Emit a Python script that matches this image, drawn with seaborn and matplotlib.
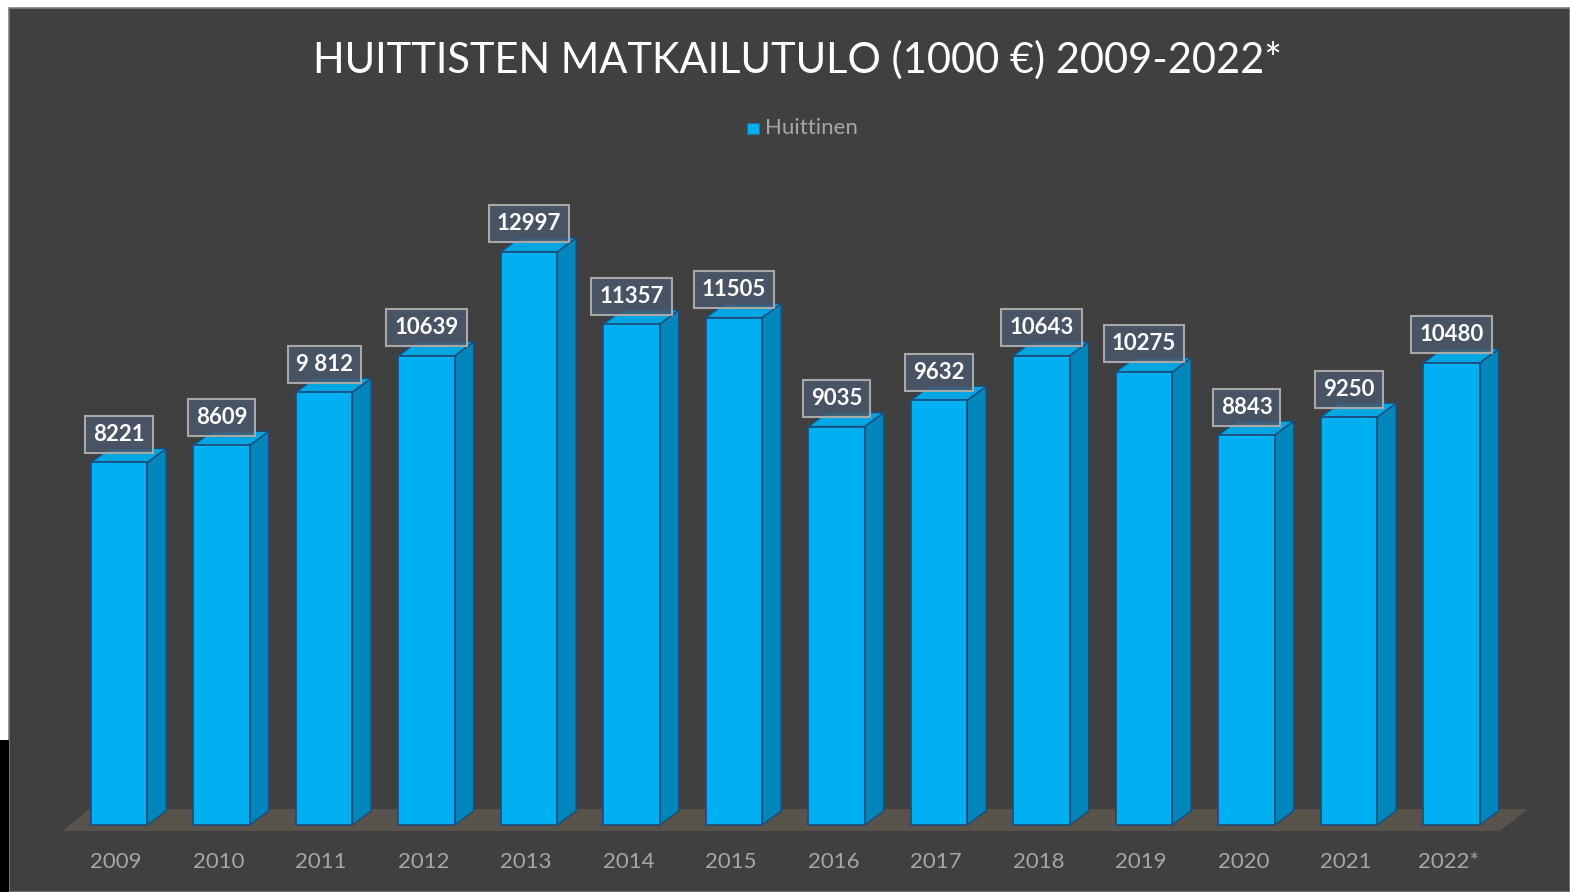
import numpy as np
import pandas as pd
import matplotlib
matplotlib.use("Agg")
import matplotlib.pyplot as plt
from matplotlib.patches import Polygon, Rectangle
import seaborn as sns

# Data
years = ["2009", "2010", "2011", "2012", "2013", "2014", "2015",
         "2016", "2017", "2018", "2019", "2020", "2021", "2022*"]
income = [8221, 8609, 9812, 10639, 12997, 11357, 11505,
          9035, 9632, 10643, 10275, 8843, 9250, 10480]
value_labels = ["8221", "8609", "9 812", "10639", "12997", "11357", "11505",
                "9035", "9632", "10643", "10275", "8843", "9250", "10480"]
series_name = "Huittinen"

df = pd.DataFrame({"Vuosi": years, "Tulo": income, "Sarja": series_name})

# Colors
bg = "#404040"
front_col = "#00B0F0"
side_col = "#0086BA"
top_col = "#00A6E2"
edge_col = "#1F4A78"
floor_col = "#58544B"
grey_txt = "#A6A6A6"

sns.set_theme(style="white")
plt.rcParams["font.family"] = ["Lato", "DejaVu Sans"]

W, H = 1570, 892
fig = plt.figure(figsize=(W / 100, H / 100), dpi=100, facecolor="white")

# dark chart panel with white / black strips around it
fig.patches.append(Rectangle((9 / W, 0), 1 - 9 / W, 1 - 8 / H, transform=fig.transFigure,
                             facecolor=bg, edgecolor="#7F7F7F", lw=1.2, zorder=-10))
fig.patches.append(Rectangle((0, 0), 9 / W, (H - 740) / H, transform=fig.transFigure,
                             facecolor="black", edgecolor="none", zorder=-10))

# axes placement (pixels) : category 0 centre at x=119, step 102.5 px ; zero at y=825
px_x = 102.5
px_y = 0.0441
ax_bot, ax_top = 840, 200
y0 = -(ax_bot - 825) / px_y
y1 = (825 - ax_top) / px_y
x0, x1 = -0.5, len(years) - 0.5
left = (119 + x0 * px_x) / W
right = (119 + x1 * px_x) / W
ax = fig.add_axes([left, (H - ax_bot) / H, right - left, (ax_bot - ax_top) / H])
ax.set_facecolor("none")
ax.set_zorder(2)

bw = 0.55
dx = 19 / px_x
dy = 14 / px_y

# floor
n = len(years)
floor = Polygon([(-0.55, -136), (n - 1 + 0.47, -136), (n - 1 + 0.75, 363), (-0.29, 363)],
                closed=True, facecolor=floor_col, edgecolor="none", zorder=1, clip_on=False)
ax.add_patch(floor)

# front faces
sns.barplot(data=df, x="Vuosi", y="Tulo", hue="Sarja", palette=[front_col], width=bw,
            saturation=1, edgecolor=edge_col, linewidth=1.2, legend=False, ax=ax, zorder=3)
for p in ax.patches:
    p.set_clip_on(False)

# side and top faces for the 3D look
for i, v in enumerate(income):
    xl, xr = i - bw / 2, i + bw / 2
    side = Polygon([(xr, 0), (xr + dx, dy), (xr + dx, v + dy), (xr, v)], closed=True,
                   facecolor=side_col, edgecolor=edge_col, lw=1.0, zorder=2, clip_on=False)
    top = Polygon([(xl, v), (xr, v), (xr + dx, v + dy), (xl + dx, v + dy)], closed=True,
                  facecolor=top_col, edgecolor=edge_col, lw=1.0, zorder=2, clip_on=False)
    ax.add_patch(side)
    ax.add_patch(top)

# value labels in boxes
for i, (v, lab) in enumerate(zip(income, value_labels)):
    ax.text(i, v + 28 / px_y, lab, ha="center", va="center", color="white",
            fontsize=16, fontweight="bold", zorder=5,
            bbox=dict(boxstyle="square,pad=0.36", facecolor=(0.29, 0.34, 0.42, 0.85),
                      edgecolor="#A8A8A8", lw=1.5))

ax.set_xlim(x0, x1)
ax.set_ylim(y0, y1)
ax.set_yticks([])
ax.set_xlabel("")
ax.set_ylabel("")
# tick labels sit a little left of the bar centres
ax.set_xticks(np.arange(n) - 0.03)
ax.set_xticklabels(years, color=grey_txt, fontsize=16)
ax.tick_params(axis="x", length=0, pad=9)
for s in ax.spines.values():
    s.set_visible(False)

# title and legend
fig.text(797 / W, 1 - 60 / H, "HUITTISTEN MATKAILUTULO (1000 €) 2009-2022*", ha="center",
         va="center", color="white", fontsize=30)
fig.patches.append(Rectangle((747 / W, 1 - 134 / H), 12 / W, 11 / H, transform=fig.transFigure,
                             facecolor=front_col, edgecolor="#1F6FA0", lw=0.8, zorder=3))
fig.text(765 / W, 1 - 128 / H, series_name, ha="left", va="center", color=grey_txt, fontsize=16)

fig.savefig("out.png", dpi=100, facecolor=fig.get_facecolor())
